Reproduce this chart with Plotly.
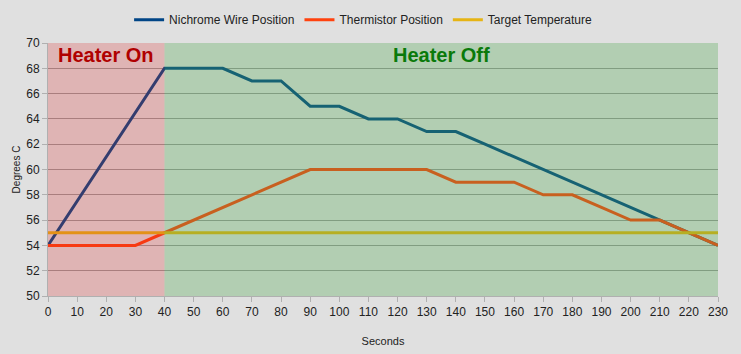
import plotly.graph_objects as go

# ---- data ----
nichrome_x = [0, 40, 50, 60, 70, 80, 90, 100, 110, 120, 130, 140, 150, 160, 170, 180, 190, 200, 210, 220, 230]
nichrome_y = [54, 68, 68, 68, 67, 67, 65, 65, 64, 64, 63, 63, 62, 61, 60, 59, 58, 57, 56, 55, 54]

therm_x = [0, 10, 20, 30, 40, 50, 60, 70, 80, 90, 100, 110, 120, 130, 140, 150, 160, 170, 180, 190, 200, 210, 220, 230]
therm_y = [54, 54, 54, 54, 55, 56, 57, 58, 59, 60, 60, 60, 60, 60, 59, 59, 59, 58, 58, 57, 56, 56, 55, 54]

target_x = [0, 230]
target_y = [55, 55]

heater_on = [0, 40]
heater_off = [40, 230]

x_ticks = list(range(0, 231, 10))
y_ticks = list(range(50, 71, 2))

fig = go.Figure()
fig.add_trace(go.Scatter(x=nichrome_x, y=nichrome_y, mode="lines", name="Nichrome Wire Position",
                         line=dict(color="#004586", width=3)))
fig.add_trace(go.Scatter(x=therm_x, y=therm_y, mode="lines", name="Thermistor Position",
                         line=dict(color="#ff420e", width=3)))
fig.add_trace(go.Scatter(x=target_x, y=target_y, mode="lines", name="Target Temperature",
                         line=dict(color="#e6b414", width=3)))

# tinted overlays (above traces, semi-transparent)
fig.add_shape(type="rect", xref="x", yref="y", x0=heater_on[0], x1=heater_on[1], y0=50, y1=70,
              fillcolor="rgb(220,33,33)", opacity=0.23, line_width=0, layer="above")
fig.add_shape(type="rect", xref="x", yref="y", x0=heater_off[0], x1=heater_off[1], y0=50, y1=70,
              fillcolor="rgb(73,167,73)", opacity=0.3, line_width=0, layer="above")

fig.add_annotation(x=sum(heater_on) / 2, y=70, xref="x", yref="y", yanchor="top", yshift=1,
                   text="<b>Heater On</b>", showarrow=False,
                   font=dict(family="Liberation Sans, Arial", size=20, color="#b00000"))
fig.add_annotation(x=sum(heater_off) / 2, y=70, xref="x", yref="y", yanchor="top", yshift=1,
                   text="<b>Heater Off</b>", showarrow=False,
                   font=dict(family="Liberation Sans, Arial", size=20, color="#0a7a0a"))

fig.update_layout(
    width=741, height=354,
    margin=dict(l=48, r=23, t=43, b=58, autoexpand=False),
    paper_bgcolor="#e0e0e0", plot_bgcolor="#e0e0e0",
    font=dict(family="Liberation Sans, Arial", size=12, color="#222222"),
    legend=dict(orientation="h", x=0.49, xanchor="center", xref="container",
                y=0.985, yanchor="top", yref="container",
                font=dict(size=12, color="#222222"), bgcolor="rgba(0,0,0,0)",
                itemwidth=30, tracegroupgap=0),
    showlegend=True,
)
fig.update_xaxes(range=[0, 230], tickvals=x_ticks, ticktext=[str(v) for v in x_ticks],
                 showgrid=False, zeroline=False, showline=True, linecolor="#b0b0b0", linewidth=1,
                 ticks="outside", ticklen=5, tickcolor="#b0b0b0",
                 title=dict(text="Seconds", font=dict(size=11), standoff=18),
                 tickfont=dict(size=12))
fig.update_yaxes(range=[50, 70], tickvals=y_ticks, ticktext=[str(v) for v in y_ticks],
                 showgrid=True, gridcolor="#9a9a9a", gridwidth=1, zeroline=False,
                 showline=True, linecolor="#b0b0b0", linewidth=1,
                 ticks="outside", ticklen=5, tickcolor="#b0b0b0",
                 title=dict(text="Degrees C", font=dict(size=10), standoff=3),
                 tickfont=dict(size=12))

fig.write_html("out.html")
